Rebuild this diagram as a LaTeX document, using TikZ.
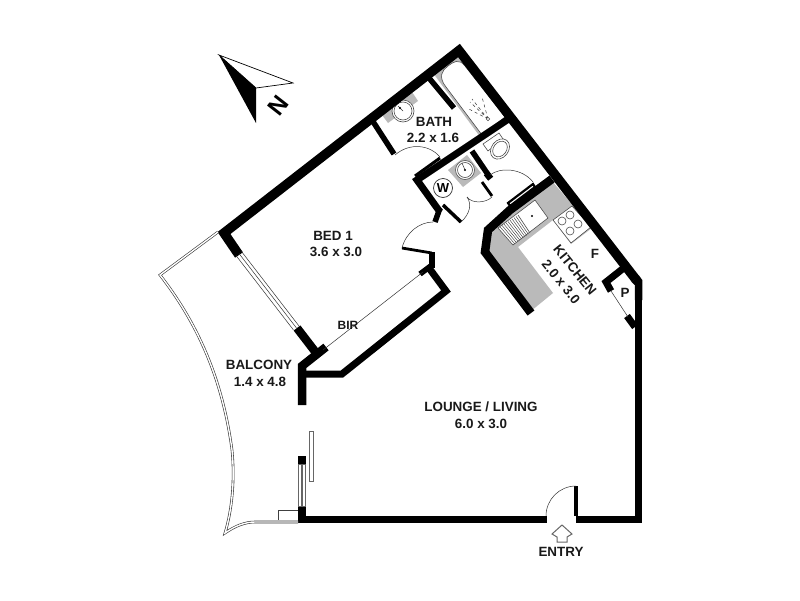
\documentclass[tikz,border=0pt]{standalone}
\usepackage{fontspec}
\setmainfont{Liberation Sans}
\begin{document}
\begin{tikzpicture}[x=1pt,y=-1pt,
  wall/.style={line width=8.5pt,line join=miter,draw=black},
  outerwall/.style={line width=9.5pt,line join=miter,draw=black},
  basewall/.style={line width=7.5pt,line join=miter,draw=black},
  thinwall/.style={line width=5.5pt,line join=miter,draw=black},
  fine/.style={line width=0.6pt,draw=black!75},
  thin line/.style={line width=0.5pt,draw=black!80},
  rail/.style={draw=black!80,line width=0.6pt,double=white,double distance=1.4pt},
  counter/.style={fill=black!27,draw=none},
  fixture/.style={fill=white,draw=black!70,line width=0.6pt},
  lbl/.style={font=\bfseries\fontsize{13.4}{15}\selectfont,text=black!90,inner sep=0pt},
  small lbl/.style={font=\bfseries\fontsize{12}{14}\selectfont,text=black!90,inner sep=0pt}]
\useasboundingbox (0,0) rectangle (800,600);
\fill[white] (0,0) rectangle (800,600);

% counters and grey surrounds
\fill[counter] (433,73) -- (459,54) -- (508,118) -- (481,138) -- cycle;
\fill[counter] (382,115) -- (412,92) -- (418,101) -- (388,123) -- cycle;
\fill[counter] (448,170) -- (467,155) -- (481,173) -- (463,187) -- cycle;
\fill[counter] (552,181) -- (592,228) -- (571,244) -- (553,220) -- (518,247) -- (553,293) -- (531,311) -- (484,250) -- (488,230) -- (510,211) -- cycle;

% bath
\draw[fixture] (505,117) -- (482,135) -- (446,87) .. controls (438,77) and (442,70) .. (448,66) .. controls (453,62) and (459,58) .. (465,66) -- cycle;
\draw[thin line,dashed] (488,119) -- (472,99);
\draw[thin line,dashed] (488,119) -- (467,108);
\draw[thin line,dashed] (488,119) -- (482,97);
\draw[thin line,dashed] (488,119) -- (470,102);
\draw[fixture] (488,119) circle (1.7);

% basins
\draw[fixture] (403,111) circle (11);
\draw[fixture] (403,111) circle (9);
\draw[thin line] (403,111) -- (398,106);
\fill (400,108) circle (1.2);
\draw[fixture] (465,170) circle (9.5);
\draw[fixture] (465,170) circle (7.5);
\draw[thin line] (465,170) -- (462,163);
\fill (465,170) circle (1.2);

% toilet
\draw[fixture] (483,144) -- (499,133) -- (503,139) -- (488,151) -- cycle;
\draw[fixture] (500,149) ellipse [x radius=11,y radius=8.5,rotate=52];
\draw[fixture] (500,149) ellipse [x radius=8.5,y radius=6.5,rotate=52];

% washer
\node[circle,draw=black!80,line width=0.7pt,fill=white,minimum size=19pt,inner sep=0pt,font=\bfseries\fontsize{13}{14}\selectfont] (washer) at (443,188) {W};

% kitchen sink
\draw[fixture] (498,228) -- (535,200) -- (548,218) -- (513,245) -- cycle;
\draw[fixture] (518,215) -- (530,233);
\foreach \t in {0.1,0.2,...,0.95}{
  \draw[line width=0.45pt,black!75] ({498+\t*20},{228-\t*13}) -- ({513+\t*17},{245-\t*12});
}
\fill (532,216) circle (1.1);

% hob
\draw[fixture] (553,220) -- (572,206) -- (591,227) -- (571,243) -- cycle;
\draw[fixture] (570,215) circle (4);
\draw[fixture] (562,221) circle (4);
\draw[fixture] (578,224) circle (4);
\draw[fixture] (570,231) circle (4);

% walls
\draw[outerwall] (239,255) -- (224,233) -- (459,50.5) -- (635.5,279);
\fill (639,275.5) -- (642.25,280) -- (642.25,300) -- (634.75,300) -- (634.75,285) -- (631.5,282) -- cycle;
\draw[basewall] (638.5,290) -- (638.5,523);
\draw[wall] (297,328) -- (317,354);
\draw[wall] (302,405) -- (302,366) -- (326,347);
\draw[line width=7pt,line join=miter] (302,374) -- (342,374) -- (446,291) -- (429,268);
\draw[thinwall] (420,274) -- (432,265);
\draw[thinwall] (432,268) -- (432,252);
\draw[thinwall] (440,208) -- (435,222);
\draw[line width=7pt,line join=miter] (513,116) -- (417,180) -- (440,212);
\draw[thinwall] (372,120) -- (394,154);
\draw[thinwall] (429,78) -- (454,108);
\draw[thinwall] (472,151) -- (489,176);
\draw[line width=7pt] (486,178) -- (491,174);
\draw[line width=3pt,black] (415,176) -- (440,158);
\draw[line width=2.8pt,black] (482,182) -- (492,196);
\draw[line width=3.5pt,black] (443,205) -- (461,222);
\draw[wall] (552,179) -- (510,210) -- (488,230) -- (485,252) -- (531,313);
\draw[line width=7pt,line join=miter] (625,267) -- (606,282) -- (611,291);
\draw[line width=7pt] (627,316) -- (635,327);
\draw[basewall] (298,519.5) -- (547,519.5);
\draw[basewall] (576,519.5) -- (642,519.5);
\draw[line width=4pt] (576,486) -- (576,516);
\fill (298,506) rectangle (306,516);
\fill (298,456) rectangle (306,464);

% door frame with white channel
\draw[line width=2.2pt,black,fill=white] (508,203) -- (533,184) -- (535,187) -- (510,206) -- cycle;

% door swings
\draw[thin line] (546,516) arc[start angle=180,end angle=270,radius=30];
\draw[thin line] (395,155) .. controls (410,142) and (430,145) .. (440,157);
\draw[thin line] (490,175) .. controls (500,167) and (522,168) .. (533,182);
\draw[thin line] (492,197) .. controls (486,203) and (472,204) .. (467,197);
\draw[thin line] (461,222) .. controls (470,214) and (472,204) .. (467,197);
\draw[line width=2.8pt] (402,248) -- (432,253);
\draw[thin line] (402,248) .. controls (406,232) and (420,222) .. (433,222);

% thin door lines
\draw[thin line] (323,350) -- (423,272);
\draw[thin line] (611,291) -- (628,317);

% bedroom window
\draw[thin line] (236,255.5) -- (293.5,330);
\draw[thin line] (241.5,251.5) -- (299,326);
\draw[thin line] (239,253.5) -- (296.5,328);

% balcony
\draw[rail] (218,232) -- (160,275) .. controls (195,320) and (222,375) .. (232,450) .. controls (235,480) and (232,510) .. (225,533) .. controls (235,526) and (245,522) .. (255,522) -- (298,522);
\draw[fine] (278,520) -- (278,510.5) -- (298,510.5);

% sliding door
\draw[draw=black!60,line width=0.8pt,fill=white] (298.5,464) rectangle (305.5,506);
\draw[draw=black!60,line width=1.2pt] (302,464) -- (302,506);
\draw[draw=black!60,line width=0.8pt,fill=white] (309.5,431) rectangle (313,481);

% entry arrow
\draw[draw=black!60,line width=1pt] (562,525) -- (552,534) -- (557,537) -- (557,542) -- (567,542) -- (567,537) -- (572,534) -- cycle;

% north arrow
\draw[line width=0.7pt,fill=white] (219,55) -- (293,83) -- (256,88) -- cycle;
\fill (219,55) -- (256,88) -- (256,123) -- cycle;
\node[font=\bfseries\fontsize{24}{24}\selectfont,rotate=52,inner sep=0pt] (north) at (278,106) {N};

% labels
\node[lbl] (bath) at (434,122) {BATH};
\node[lbl] (bathd) at (433,138) {2.2 x 1.6};
\node[lbl] (bed) at (333,236) {BED 1};
\node[lbl] (bedd) at (336,252) {3.6 x 3.0};
\node[lbl] (kit) at (575,270) [rotate=-51] {KITCHEN};
\node[lbl] (kitd) at (561,282) [rotate=-51] {2.0 x 3.0};
\node[lbl] (f) at (595,254) {F};
\node[lbl] (p) at (625,293) {P};
\node[small lbl] (bir) at (348,325) {BIR};
\node[lbl] (bal) at (259,365) {BALCONY};
\node[lbl] (bald) at (260,382) {1.4 x 4.8};
\node[lbl] (lounge) at (481,407) {LOUNGE / LIVING};
\node[lbl] (loungd) at (481,424) {6.0 x 3.0};
\node[lbl] (entry) at (561,552) {ENTRY};
\end{tikzpicture}
\end{document}
